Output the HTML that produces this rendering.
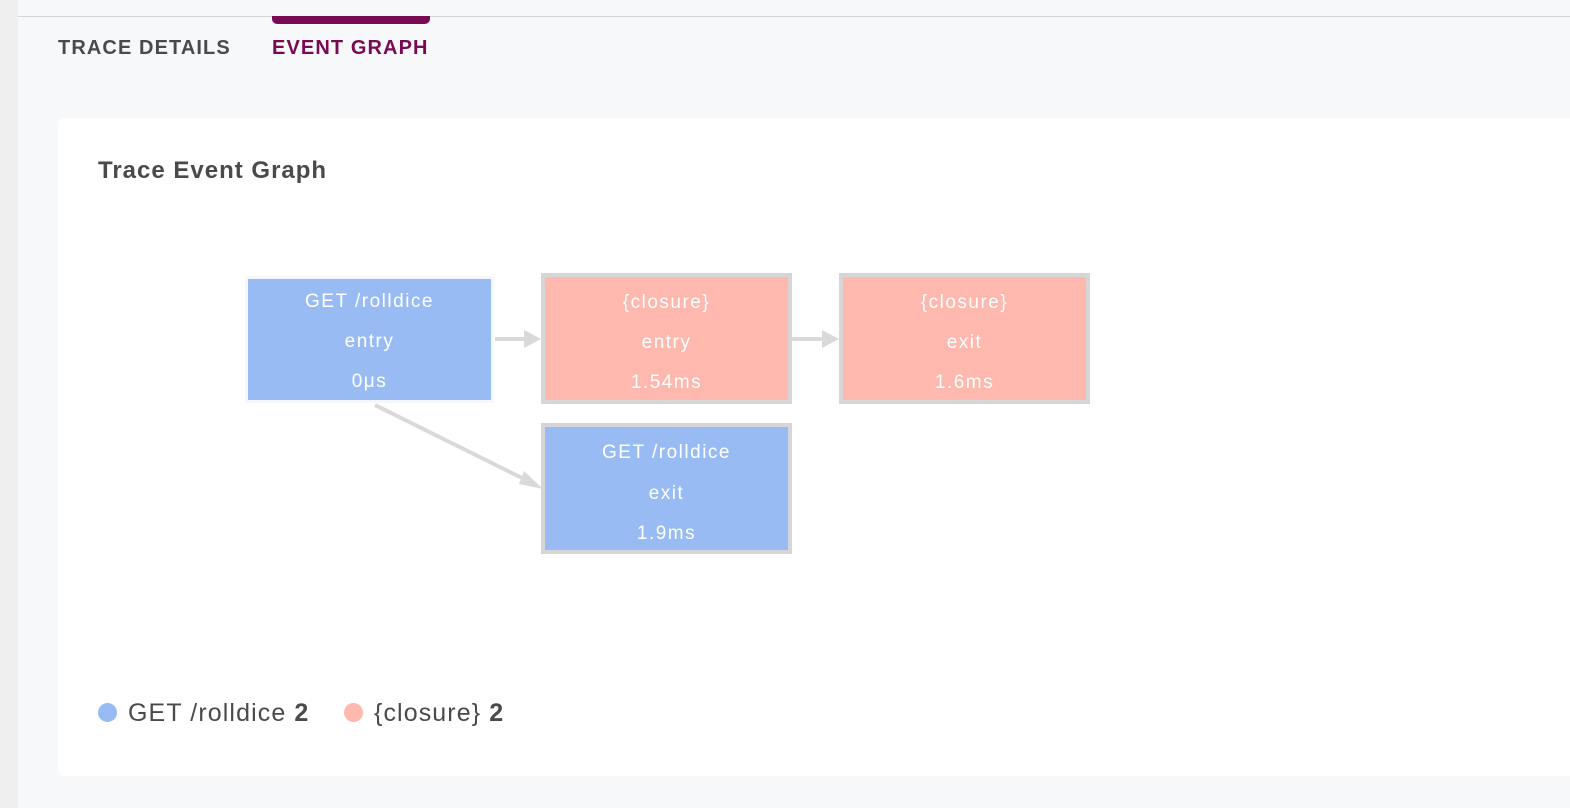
<!DOCTYPE html>
<html><head><meta charset="utf-8"><style>
body{margin:0;width:1570px;height:808px;background:#f7f8fa;font-family:"Liberation Sans",sans-serif;position:relative;overflow:hidden}
.strip{position:absolute;left:0;top:0;width:18px;height:808px;background:#efefef}
.topline{position:absolute;left:18px;top:16px;right:0;height:1px;background:#d6d6d6}
.bar{position:absolute;left:272px;top:16px;width:158px;height:8px;background:#770a52;border-radius:0 0 5px 5px}
.tab{position:absolute;top:37px;font-size:20px;font-weight:bold;color:#4a4a4a;letter-spacing:1.1px}
.card{position:absolute;left:58px;top:118px;width:1530px;height:658px;background:#fff;border-radius:6px}
.title{position:absolute;left:98px;top:157px;font-size:24px;font-weight:bold;color:#4a4a4a;letter-spacing:1px}
.node{position:absolute;box-sizing:border-box;color:#fff;font-size:19px;text-align:center;letter-spacing:1.5px}
.node div{position:absolute;left:0;right:0}
.leg{position:absolute;top:699px;font-size:25px;color:#4a4a4a;letter-spacing:1.1px}
.dot{position:absolute;top:703px;width:19px;height:19px;border-radius:50%}
</style></head><body>
<div class="strip"></div><div class="topline"></div><div class="bar"></div>
<div class="tab" style="left:58px">TRACE DETAILS</div>
<div class="tab" style="left:272px;color:#770a52">EVENT GRAPH</div>
<div class="card"></div>
<div class="title">Trace Event Graph</div>
<svg style="position:absolute;left:0;top:0" width="1570" height="808">
<g stroke="#d9d9d9" stroke-width="4" fill="none">
<line x1="495" y1="339" x2="528" y2="339"/>
<line x1="791" y1="339" x2="826" y2="339"/>
<line x1="375" y1="405" x2="528" y2="481"/>
</g>
<g fill="#d9d9d9">
<polygon points="541,339 524,330 524,348"/>
<polygon points="839,339 822,330 822,348"/>
<polygon points="543,489 524,471 519,484"/>
</g>
</svg>
<div class="node" style="left:245px;top:276px;width:249px;height:127px;border:3px solid #f4f7fd;background:#99bbf3"><div style="top:12px">GET /rolldice</div><div style="top:52px">entry</div><div style="top:92px">0μs</div></div>
<div class="node" style="left:541px;top:273px;width:251px;height:131px;border:4px solid #d6d6d6;background:#feb8ad"><div style="top:15px">{closure}</div><div style="top:55px">entry</div><div style="top:95px">1.54ms</div></div>
<div class="node" style="left:839px;top:273px;width:251px;height:131px;border:4px solid #d6d6d6;background:#feb8ad"><div style="top:15px">{closure}</div><div style="top:55px">exit</div><div style="top:95px">1.6ms</div></div>
<div class="node" style="left:541px;top:423px;width:251px;height:131px;border:4px solid #d6d6d6;background:#99bbf3"><div style="top:15px">GET /rolldice</div><div style="top:56px">exit</div><div style="top:96px">1.9ms</div></div>
<div class="dot" style="left:98px;background:#99bbf3"></div>
<div class="leg" style="left:128px">GET /rolldice <b>2</b></div>
<div class="dot" style="left:344px;background:#feb8ad"></div>
<div class="leg" style="left:374px">{closure} <b>2</b></div>
</body></html>
